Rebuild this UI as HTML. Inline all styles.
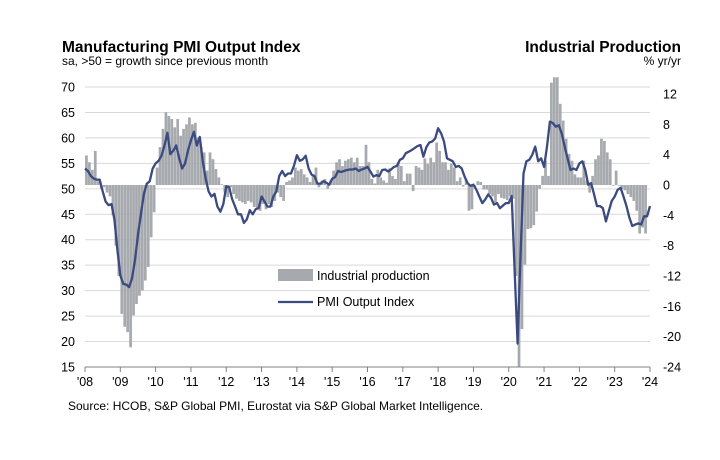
<!DOCTYPE html>
<html><head><meta charset="utf-8">
<style>
body{margin:0;background:#fff;}
svg{display:block;font-family:"Liberation Sans",Arial,sans-serif;}
</style></head>
<body>
<svg id="chart" width="720" height="460" viewBox="0 0 720 460">
<text x="62" y="52" font-size="15.5" font-weight="bold" fill="#000">Manufacturing PMI Output Index</text>
<text x="62" y="65" font-size="12" fill="#000">sa, &gt;50 = growth  since previous month</text>
<text x="681" y="52" font-size="15.5" font-weight="bold" text-anchor="end" fill="#000">Industrial Production</text>
<text x="681" y="65" font-size="12" text-anchor="end" fill="#000">% yr/yr</text>
<g id="grid"></g>
<g id="bars"></g>
<g id="line"></g>
<g id="axes"></g>
<g>
<rect x="278" y="269" width="35" height="12" fill="#a6a9ad"/>
<text x="317" y="280" font-size="12.5" fill="#000">Industrial production</text>
<line x1="278" y1="302" x2="313" y2="302" stroke="#3b4a7f" stroke-width="2.2"/>
<text x="317" y="306" font-size="12.5" fill="#000">PMI Output Index</text>
</g>
<text x="68" y="410" font-size="12" fill="#000">Source: HCOB, S&amp;P Global PMI, Eurostat via S&amp;P Global Market Intelligence.</text>
</svg>
<script>
const leftTicks=[15,20,25,30,35,40,45,50,55,60,65,70];
const rightTicks=[-24,-20,-16,-12,-8,-4,0,4,8,12];
const yearLabels=["'08","'09","'10","'11","'12","'13","'14","'15","'16","'17","'18","'19","'20","'21","'22","'23","'24"];
const pmi=[
54,53.5,52.5,52,51.8,51.8,49.5,47.5,46.8,47,44,38,
33,31.3,31.2,30.7,32.5,36,41,45,49,51,51.5,54,
55,55.5,56.5,58.5,61,56.8,57.5,58.5,56,54,55,57.5,
59.5,61.2,58.5,60.2,55.5,52,49.5,48.5,49,46.5,45.5,47,
50.5,50.3,48,46.5,45,45,43.3,44,45.8,45,46,46.2,
48.5,47.5,46.5,46.5,48.5,49.5,52.5,53.5,52.5,53,53,54.5,
56.6,55.5,55.8,56.5,54,52.8,52.5,51,51,51.5,51.2,50.8,
52,52.3,53.5,53.3,53.5,53.7,53.8,53.8,54,53.5,53.8,54,
54.3,53.4,52.4,52.7,52.5,53.7,53.8,53.4,53.8,54.3,54.5,55.7,
56,57,57.3,57.6,58,58.4,58.6,56.3,58.2,59.1,59.3,59.9,
61.9,60.9,59.3,56,55.7,55.4,54.3,54.5,54,52.4,51.1,50.6,
50.8,49.8,48.5,47.2,47.9,48.9,48.2,46.9,47.2,46.2,46.7,47.2,
47.2,48.6,34.1,19.6,36.7,53,55.4,55.7,56.7,58.3,55.4,56,
54.3,58.3,63.2,62.9,62.2,62.5,60.9,58.3,56,53.7,54,53.7,
55,55.4,53.7,50.8,51.1,48.9,46.6,46.6,46.2,43.6,45.6,47.6,
48.5,49.8,50.2,48.5,46.6,44.3,42.7,43,43.2,43,44.6,44.6,
46.6];
const ip=[
3.9,3.0,2.0,4.5,0.5,-0.5,-0.3,-1.0,-1.5,-4,-8,-12,
-17,-18.7,-19.4,-21.4,-17.2,-15.7,-14.6,-13.9,-12.6,-10.8,-6.9,-3.6,
2.3,5,7.4,9.6,9.1,8.7,7.6,8.7,6.5,7.4,8,8.9,
8,8.2,6.3,5,4.3,1.9,4.3,3.4,2.1,1.0,0.1,-1,
-1.6,-0.3,-1.2,-1.8,-2.1,-2.3,-2.5,-2.1,-2.3,-2.9,-3.2,-3.4,
-2.5,-3.2,-2.5,-2.9,-2.1,-1,-1.6,-2.1,0.4,0.6,1,2.3,
1.9,2.1,1.4,1,0.4,1.4,2.3,-0.3,0.6,0.8,-0.5,0.6,
1.9,3.0,3.4,2.5,3.2,3.4,3.6,3.0,3.6,2.5,2.5,5.3,
3,0.8,0.2,2,1,0.6,0.3,2.2,1.2,0.8,3.0,2.5,
0.5,1.5,1.5,-0.8,2.5,2.3,2.0,3.5,2.8,3.6,3.0,5.6,
4.5,3.0,3.0,2.0,2.8,2.3,0.5,1.0,-0.2,0.8,-3.4,-3.2,
-0.3,0.5,0.4,-0.6,-0.6,-1.2,-1.5,-2.3,-1.2,-1.7,-1.8,-2.0,
-1.5,-1.8,-12,-24,-19,-10.5,-5.8,-5.7,-5.3,-3.5,-0.5,1.2,
3.2,1.2,13.5,14.2,14.2,10.7,8.5,6.1,4.1,3.2,1.4,1.0,
1.0,3.2,0.6,-1.0,1.2,3.4,3.9,6.1,5.8,4.3,3.4,-0.1,
1.9,-0.1,-0.5,-0.7,-1.2,-1.6,-2.1,-3.4,-6.4,-5.6,-6.4,null];

const NS="http://www.w3.org/2000/svg";
const X0=85,X1=650,MONTHS=192;
function xM(i){return X0+(X1-X0)*i/MONTHS;}
function yL(v){return 87+(70-v)*(280/55);}
function yR(v){return 185-v*(182/24);}
function mk(tag,attrs,parent){const e=document.createElementNS(NS,tag);for(const k in attrs)e.setAttribute(k,attrs[k]);parent.appendChild(e);return e;}

const grid=document.getElementById('grid');
leftTicks.forEach(v=>{
  if(v!==15){const l=mk('line',{x1:X0,x2:X1,y1:yL(v),y2:yL(v),stroke:'#d9d9d9','stroke-width':1},grid);
  
  }
  const t=mk('text',{x:75,y:yL(v)+4.5,'font-size':12.5,'text-anchor':'end',fill:'#000'},grid);
  t.textContent=v;
  
  
});
rightTicks.forEach(v=>{
  const t=mk('text',{x:663,y:yR(v)+4.5,'font-size':12.5,fill:'#000'},grid);
  t.textContent=v;
  
  
});
const bars=document.getElementById('bars');
const bw=(X1-X0)/MONTHS;
ip.forEach((v,i)=>{
  if(v===null)return;
  const y0=yR(0),y1=yR(v);
  const r=mk('rect',{x:xM(i)+0.1,y:Math.min(y0,y1),width:bw*0.92,height:Math.max(0.5,Math.abs(y1-y0)),fill:'#a6a9ad'},bars);
  
  
});
const lineG=document.getElementById('line');
const pts=pmi.map((v,i)=>xM(i).toFixed(1)+','+yL(v).toFixed(1)).join(' ');
const pl=mk('polyline',{points:pts,fill:'none',stroke:'#3b4a7f','stroke-width':2.3,'stroke-linejoin':'round'},lineG);


const axes=document.getElementById('axes');
const ax=mk('line',{x1:X0,x2:X1,y1:367,y2:367,stroke:'#808080','stroke-width':1},axes);


yearLabels.forEach((s,k)=>{
  const x=xM(k*12);
  const tk=mk('line',{x1:x,x2:x,y1:367,y2:372,stroke:'#808080','stroke-width':1},axes);
  
  
  const t=mk('text',{x:x,y:386,'font-size':12.5,'text-anchor':'middle',fill:'#000'},axes);
  t.textContent=s;
  
  
});
</script>
</body></html>
